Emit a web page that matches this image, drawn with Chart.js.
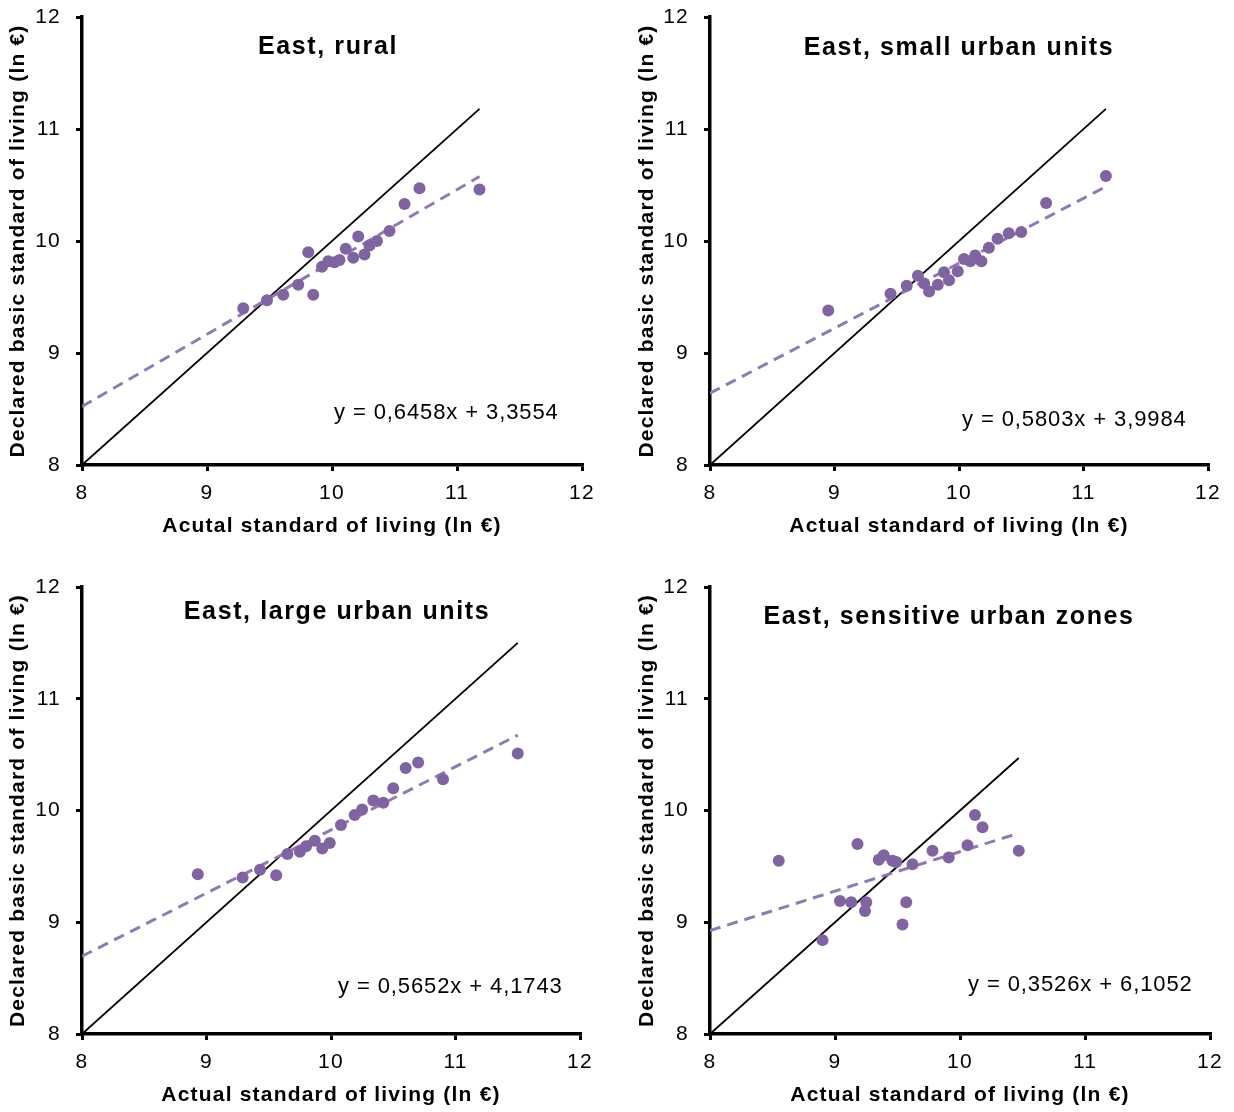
<!DOCTYPE html>
<html lang="en">
<head>
<meta charset="UTF-8">
<title>East: declared vs actual standard of living</title>
<script src="https://cdn.jsdelivr.net/npm/chart.js"></script>
<style>
    body {
        margin: 0;
        padding: 0;
        background: #fff;
    }
    .wrap {
        position: relative;
        width: 1234px;
        height: 1112px;
    }
    canvas {
        position: absolute;
    }
</style>
</head>
<body>
<div class="wrap">
    <canvas id="rural" width="617" height="556" style="left:0;top:0"></canvas>
    <canvas id="small" width="617" height="556" style="left:617px;top:0"></canvas>
    <canvas id="large" width="617" height="556" style="left:0;top:556px"></canvas>
    <canvas id="zones" width="617" height="556" style="left:617px;top:556px"></canvas>
</div>
<script>
    // values (ln of euros)
    const ruralX = [9.29, 9.48, 9.61, 9.73, 9.81, 9.85, 9.92, 9.97, 10.02, 10.06, 10.11, 10.17, 10.21, 10.26, 10.30, 10.36, 10.46, 10.58, 10.70, 11.18];
    const ruralY = [9.40, 9.47, 9.52, 9.61, 9.90, 9.52, 9.77, 9.82, 9.81, 9.83, 9.93, 9.85, 10.04, 9.88, 9.96, 10.00, 10.09, 10.33, 10.47, 10.46];

    const smallX = [8.95, 9.45, 9.58, 9.67, 9.72, 9.76, 9.83, 9.88, 9.92, 9.99, 10.04, 10.09, 10.13, 10.18, 10.24, 10.31, 10.40, 10.50, 10.70, 11.18];
    const smallY = [9.38, 9.53, 9.60, 9.69, 9.62, 9.55, 9.61, 9.72, 9.65, 9.73, 9.84, 9.82, 9.87, 9.82, 9.94, 10.02, 10.07, 10.08, 10.34, 10.58];

    const largeX = [8.93, 9.29, 9.43, 9.56, 9.65, 9.75, 9.80, 9.87, 9.93, 9.99, 10.08, 10.19, 10.25, 10.34, 10.42, 10.50, 10.60, 10.70, 10.90, 11.50];
    const largeY = [9.43, 9.40, 9.47, 9.42, 9.61, 9.63, 9.68, 9.73, 9.66, 9.71, 9.87, 9.96, 10.01, 10.09, 10.07, 10.20, 10.38, 10.43, 10.28, 10.51];

    const zonesX = [8.55, 8.90, 9.04, 9.13, 9.18, 9.24, 9.25, 9.35, 9.39, 9.46, 9.49, 9.54, 9.57, 9.62, 9.78, 9.91, 10.06, 10.12, 10.18, 10.47];
    const zonesY = [9.55, 8.84, 9.19, 9.18, 9.70, 9.10, 9.18, 9.56, 9.60, 9.55, 9.54, 8.98, 9.18, 9.52, 9.64, 9.58, 9.69, 9.96, 9.85, 9.64];

    // linear trend lines (slope, intercept) as printed on the chart
    const slopes = [0.6458, 0.5803, 0.5652, 0.3526];
    const intercepts = [3.3554, 3.9984, 4.1743, 6.1052];
    const equations = ["y = 0,6458x + 3,3554", "y = 0,5803x + 3,9984", "y = 0,5652x + 4,1743", "y = 0,3526x + 6,1052"];
    const titles = ["East, rural", "East, small urban units", "East, large urban units", "East, sensitive urban zones"];
    const xTitles = ["Acutal standard of living (ln €)", "Actual standard of living (ln €)", "Actual standard of living (ln €)", "Actual standard of living (ln €)"];
    const yTitle = "Declared basic standard of living (ln €)";
    const axisMin = 8;
    const axisMax = 12;

    const FONT = "'Liberation Sans', Arial, sans-serif";
    const W = 617, H = 556;

    // the original text is a bit wider than Arial here, so space letters out
    const panelText = {
        id: "panelText",
        beforeDraw(chart) {
            chart.ctx.letterSpacing = "1.2px";
        },
        afterDatasetsDraw(chart, args, o) {
            const c = chart.ctx;
            c.save();
            c.fillStyle = "#000";
            c.textBaseline = "middle";
            c.letterSpacing = "1.6px";
            c.font = "bold 25px " + FONT;
            c.textAlign = "center";
            c.fillText(o.title, o.titleX, o.titleY);
            c.letterSpacing = "0.9px";
            c.font = "22px " + FONT;
            c.textAlign = "left";
            c.fillText(o.eq, o.eqX, o.eqY);
            c.restore();
        }
    };
    Chart.register(panelText);

    // plot area (l, r, t, b) inside each canvas plus text spots
    const panels = [
        { id: "rural", xs: ruralX, ys: ruralY, l: 82, r: 582, t: 17, b: 465, yPad: 6, xPad: 17, titleX: 328, titleY: 47, eqX: 334, eqY: 413 },
        { id: "small", xs: smallX, ys: smallY, l: 93, r: 591, t: 17, b: 465, yPad: 18, xPad: 17, titleX: 342, titleY: 48, eqX: 345, eqY: 420 },
        { id: "large", xs: largeX, ys: largeY, l: 82, r: 580, t: 31, b: 478, yPad: 6, xPad: 4, titleX: 337, titleY: 56, eqX: 338, eqY: 431 },
        { id: "zones", xs: zonesX, ys: zonesY, l: 93, r: 593, t: 31, b: 478, yPad: 18, xPad: 4, titleX: 332, titleY: 61, eqX: 351, eqY: 429 }
    ];

    function axis(title, tickPad, pad, fit) {
        return {
            type: "linear",
            min: axisMin,
            max: axisMax,
            ticks: { stepSize: 1, color: "#000", font: { size: 21, family: FONT }, padding: tickPad, maxRotation: 0, autoSkip: false },
            grid: { drawOnChartArea: false, drawTicks: true, tickLength: 6, color: "#000", lineWidth: 3 },
            border: { color: "#000", width: 3.5 },
            title: { display: true, text: title, color: "#000", font: { size: 21, weight: "bold", family: FONT }, padding: pad },
            afterFit: fit
        };
    }

    panels.forEach((p, i) => {
        const pts = p.xs.map((x, k) => ({ x: x, y: p.ys[k] }));
        const xEnd = Math.max(...p.xs);
        const diag = [{ x: axisMin, y: axisMin }, { x: xEnd, y: xEnd }];
        const trend = [
            { x: axisMin, y: slopes[i] * axisMin + intercepts[i] },
            { x: xEnd, y: slopes[i] * xEnd + intercepts[i] }
        ];

        new Chart(document.getElementById(p.id), {
            type: "scatter",
            data: {
                datasets: [
                    { data: pts, backgroundColor: "#8064A2", borderColor: "#8064A2", pointRadius: 6, pointBorderWidth: 0 },
                    { data: trend, showLine: true, borderColor: "#9179B8", borderWidth: 3, borderDash: [11, 7], pointRadius: 0 },
                    { data: diag, showLine: true, borderColor: "#000", borderWidth: 1.8, pointRadius: 0 }
                ]
            },
            options: {
                responsive: false,
                animation: false,
                layout: { padding: { left: 0, top: p.t, right: W - p.r, bottom: 0 } },
                scales: {
                    x: axis(xTitles[i], 10, { top: 0, bottom: p.xPad }, s => {
                        s.height = H - p.b;
                        s.paddingLeft = 0;
                        s.paddingRight = 0;
                    }),
                    y: axis(yTitle, 15, { top: p.yPad, bottom: 0 }, s => {
                        s.width = p.l;
                        s.paddingTop = 0;
                        s.paddingBottom = 0;
                    })
                },
                plugins: {
                    legend: { display: false },
                    tooltip: { enabled: false },
                    panelText: { title: titles[i], titleX: p.titleX, titleY: p.titleY, eq: equations[i], eqX: p.eqX, eqY: p.eqY }
                }
            }
        });
    });
</script>
</body>
</html>
